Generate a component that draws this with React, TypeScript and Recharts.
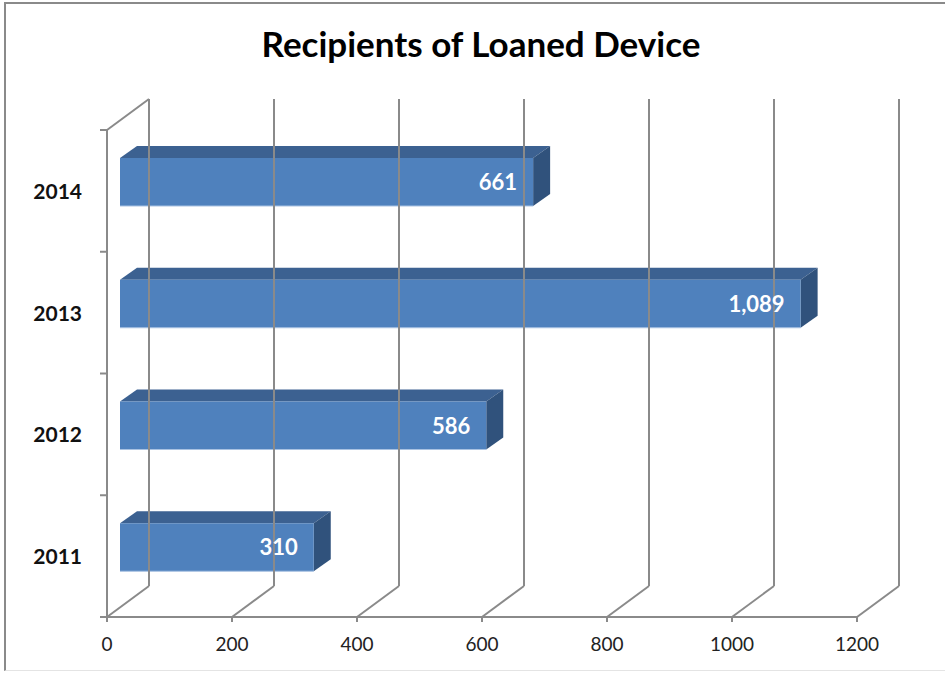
import React from 'react';
import { BarChart, Bar, XAxis, YAxis, LabelList } from 'recharts';

// data, bottom to top as in the picture
const years = ['2011', '2012', '2013', '2014'];
const recipients = [310, 586, 1089, 661];
const xTicks = [0, 200, 400, 600, 800, 1000, 1200];

const data = years.map((year, i) => ({ year, recipients: recipients[i] }));

const W = 945;
const H = 673;
const PLOT_LEFT = 107;
const PLOT_RIGHT = 857;
const PLOT_TOP = 130;
const PLOT_BOTTOM = 617;
// depth of the 3d box (front plane -> back wall)
const DX = 42;
const DY = -31;
// bar front face sits a bit into the depth
const BX = 13;
const BY = -9;
// depth of the bar itself
const BDX = 17;
const BDY = -12;

const GRID = '#8a8a8a';
const FONT = 'Lato, "Open Sans", sans-serif';

const XTick = (props: any) => {
  const { x, payload } = props;
  const y = PLOT_BOTTOM;
  return (
    <g>
      <line x1={x} y1={y} x2={x} y2={y + 5} stroke={GRID} strokeWidth={2} />
      <line x1={x} y1={y} x2={x + DX} y2={y + DY} stroke={GRID} strokeWidth={2} />
      <line x1={x + DX} y1={y + DY} x2={x + DX} y2={PLOT_TOP + DY} stroke={GRID} strokeWidth={2} />
      {payload.value === 0 && (
        <line x1={x} y1={PLOT_TOP} x2={x + DX} y2={PLOT_TOP + DY} stroke={GRID} strokeWidth={2} />
      )}
      <text x={x} y={y + 34} textAnchor="middle" fontFamily={FONT} fontSize={19} fill="#222">
        {payload.value}
      </text>
    </g>
  );
};

const YTick = (props: any) => {
  const { y, payload, index } = props;
  const band = (PLOT_BOTTOM - PLOT_TOP) / years.length;
  return (
    <g>
      <line x1={PLOT_LEFT - 7} y1={y + band / 2} x2={PLOT_LEFT} y2={y + band / 2} stroke={GRID} strokeWidth={2} />
      {index === years.length - 1 && (
        <line x1={PLOT_LEFT - 7} y1={y - band / 2} x2={PLOT_LEFT} y2={y - band / 2} stroke={GRID} strokeWidth={2} />
      )}
      <text x={82} y={y + 8} textAnchor="end" fontFamily={FONT} fontWeight={700} fontSize={21} fill="#111">
        {payload.value}
      </text>
    </g>
  );
};

const Box3D = (props: any) => {
  const { x, y, width, height } = props;
  const fx = x + BX;
  const fy = y + BY;
  const w = width;
  const h = height;
  const top = `${fx},${fy} ${fx + BDX},${fy + BDY} ${fx + w + BDX},${fy + BDY} ${fx + w},${fy}`;
  const side = `${fx + w},${fy} ${fx + w + BDX},${fy + BDY} ${fx + w + BDX},${fy + h + BDY} ${fx + w},${fy + h}`;
  return (
    <g>
      <polygon points={top} fill="#3c6191" />
      <polygon points={side} fill="#30527c" />
      <rect x={fx} y={fy} width={w} height={h} fill="#4f81bd" />
      <line x1={fx} y1={fy + h} x2={fx + w} y2={fy + h} stroke="#a9c2e2" strokeWidth={1} />
    </g>
  );
};

const BarLabel = (props: any) => {
  const { x, y, width, height, value } = props;
  return (
    <text
      x={x + BX + width - 16}
      y={y + BY + height / 2 + 8}
      textAnchor="end"
      fontFamily={FONT}
      fontWeight={700}
      fontSize={22}
      fill="#fff"
    >
      {Number(value).toLocaleString('en-US')}
    </text>
  );
};

export default function App() {
  return (
    <div style={{ position: 'fixed', left: 0, top: 0, width: W, height: H, background: '#fff' }}>
      <div
        style={{
          position: 'absolute',
          left: 4,
          top: 2,
          width: W + 10,
          height: H - 4,
          borderLeft: '2px solid #8a8a8a',
          borderTop: '2px solid #8a8a8a',
          borderBottom: '1px solid #e4e4e4',
          boxSizing: 'border-box',
        }}
      />
      <div
        style={{
          position: 'absolute',
          left: 0,
          top: 22,
          width: 962,
          textAlign: 'center',
          fontFamily: FONT,
          fontWeight: 700,
          fontSize: 35,
          color: '#000',
        }}
      >
        Recipients of Loaned Device
      </div>
      <div style={{ position: 'absolute', left: 0, top: 0 }}>
        <BarChart
          width={W}
          height={H}
          data={data}
          layout="vertical"
          margin={{ top: PLOT_TOP, right: W - PLOT_RIGHT, bottom: H - PLOT_BOTTOM - 30, left: 0 }}
        >
          <XAxis
            type="number"
            domain={[0, 1200]}
            ticks={xTicks}
            height={30}
            axisLine={{ stroke: GRID, strokeWidth: 2 }}
            tickLine={false}
            tick={<XTick />}
            interval={0}
          />
          <YAxis
            type="category"
            dataKey="year"
            reversed
            width={PLOT_LEFT}
            axisLine={{ stroke: GRID, strokeWidth: 2 }}
            tickLine={false}
            tick={<YTick />}
            interval={0}
          />
          <Bar dataKey="recipients" barSize={48} shape={<Box3D />} isAnimationActive={false}>
            <LabelList dataKey="recipients" content={<BarLabel />} />
          </Bar>
        </BarChart>
      </div>
    </div>
  );
}
